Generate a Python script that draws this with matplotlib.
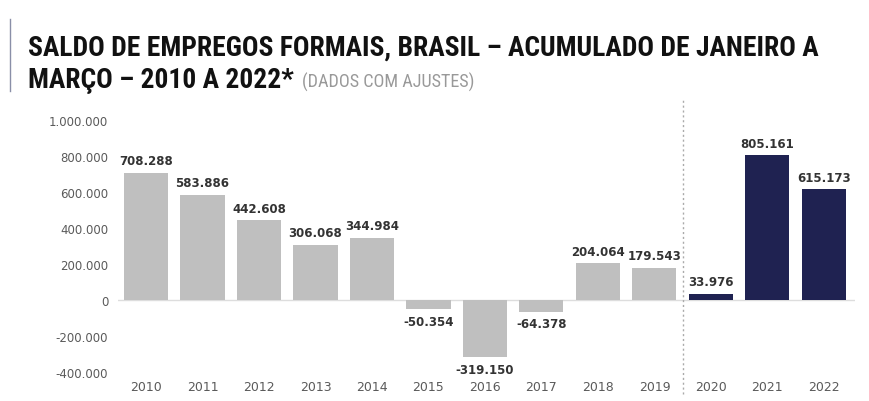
import matplotlib
matplotlib.use("Agg")
from matplotlib import pyplot as plt
from matplotlib import font_manager as fm

plt.rcParams.update({
    "font.family": ["DejaVu Sans"],
})

# data
years = ["2010", "2011", "2012", "2013", "2014", "2015", "2016",
         "2017", "2018", "2019", "2020", "2021", "2022"]
saldo = [708288, 583886, 442608, 306068, 344984, -50354, -319150,
         -64378, 204064, 179543, 33976, 805161, 615173]
highlight_from = "2020"

GRAY = "#bfbfbf"
NAVY = "#1f2251"
TEXT = "#333333"
TICK = "#5a5a5a"

names = sorted({f.name for f in fm.fontManager.ttflist})
TITLE_FONT = "DejaVu Sans"
for cand in ["Liberation Sans Narrow", "Roboto Condensed", "DejaVu Sans Condensed"]:
    if cand in names:
        TITLE_FONT = cand
        break


def fmt(v):
    s = f"{abs(v):,}".replace(",", ".")
    return ("-" if v < 0 else "") + s


def main():
    fig = plt.figure(figsize=(8.7, 4.02), dpi=100)
    ax = fig.add_axes([118 / 870, 1 - 373 / 402, 737 / 870, 252 / 402])

    x = list(range(len(years)))
    split = years.index(highlight_from)
    colors = [GRAY if i < split else NAVY for i in x]
    ax.bar(x, saldo, width=0.78, color=colors, zorder=2)

    for i, v in zip(x, saldo):
        if v >= 0:
            ax.annotate(fmt(v), (i, v), xytext=(0, 4), textcoords="offset points",
                        ha="center", va="bottom", fontsize=8.5, fontweight="bold", color=TEXT)
        else:
            ax.annotate(fmt(v), (i, v), xytext=(0, -4), textcoords="offset points",
                        ha="center", va="top", fontsize=8.5, fontweight="bold", color=TEXT)

    ax.axhline(0, color="#dddddd", linewidth=1, zorder=1)
    ax.axvline(split - 0.5, ymin=-0.087, ymax=1.083, color="#aaaaaa",
               linestyle=(0, (1.5, 2)), linewidth=1, clip_on=False)

    ax.set_xlim(-0.496, 12.55)
    ax.set_ylim(-400000, 1000000)
    ax.set_yticks(range(-400000, 1000001, 200000))
    ax.set_yticklabels([fmt(t) for t in range(-400000, 1000001, 200000)])
    ax.set_xticks(x)
    ax.set_xticklabels(years)
    ax.tick_params(axis="y", length=0, pad=7, labelsize=8.5, labelcolor=TICK)
    ax.tick_params(axis="x", length=0, pad=6, labelsize=9, labelcolor=TICK)
    for s in ax.spines.values():
        s.set_visible(False)

    # title block
    fig.add_artist(plt.Line2D([10 / 870, 10 / 870], [1 - 20 / 402, 1 - 92 / 402],
                              color="#8a8fa8", linewidth=1))
    t1 = fig.text(28 / 870, 1 - 56 / 402,
                  "SALDO DE EMPREGOS FORMAIS, BRASIL \u2013 ACUMULADO DE JANEIRO A",
                  fontsize=22, fontweight="bold", family=TITLE_FONT, color="#111111", va="baseline")
    fig.canvas.draw()
    w = t1.get_window_extent().width
    size = 22 * 787 / w
    t1.set_fontsize(size)
    t2 = fig.text(28 / 870, 1 - 88 / 402, "MAR\u00c7O \u2013 2010 A 2022*",
                  fontsize=size, fontweight="bold", family=TITLE_FONT, color="#111111", va="baseline")
    fig.canvas.draw()
    bb = t2.get_window_extent()
    fig.text(bb.x1 / 870 + 8 / 870, 1 - 88 / 402, "(DADOS COM AJUSTES)",
             fontsize=size * 0.66, family=TITLE_FONT, color="#999999", va="baseline")

    fig.savefig("out.png", dpi=100)


main()
